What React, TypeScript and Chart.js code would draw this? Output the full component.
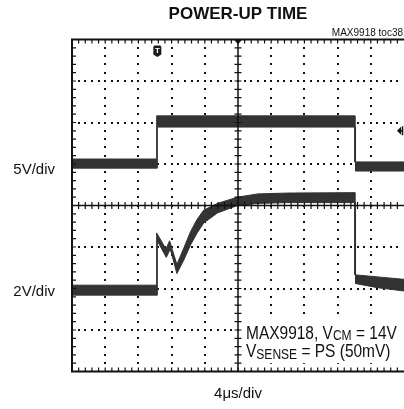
import React, { useEffect, useRef } from "react";
import { Chart, registerables } from "chart.js";

Chart.register(...registerables);

// Time axis: 10 divisions (4µs/div). Vertical: 8 divisions, centre = 0.
const xDivisions = [0, 1, 2, 3, 4, 5, 6, 7, 8, 9, 10];
const yDivisions = [-4, -3, -2, -1, 0, 1, 2, 3, 4];

// Channel 1 (5V/div) trace envelope (in divisions)
const ch1UpperTime = [0, 2.55, 2.55, 8.52, 8.52, 10];
const ch1UpperLevel = [1.12, 1.12, 2.16, 2.16, 1.05, 1.05];
const ch1LowerTime = [0, 2.57, 2.57, 8.54, 8.54, 10];
const ch1LowerLevel = [0.9, 0.9, 1.89, 1.89, 0.83, 0.83];

// Channel 2 (2V/div) trace envelope (in divisions)
const ch2UpperTime = [0, 2.55, 2.55, 2.83, 2.94, 3.16, 3.37, 3.57, 3.77, 3.97, 4.38, 4.98, 5.6, 6.5, 8.52, 8.52, 9.2, 10];
const ch2UpperLevel = [-1.92, -1.92, -0.66, -1.05, -0.85, -1.42, -1.02, -0.63, -0.33, -0.11, 0.05, 0.2, 0.28, 0.3, 0.31, -1.67, -1.72, -1.78];
const ch2LowerTime = [0, 2.57, 2.57, 2.84, 2.96, 3.16, 3.37, 3.57, 3.77, 3.97, 4.38, 4.98, 5.6, 6.5, 8.54, 8.54, 9.2, 10];
const ch2LowerLevel = [-2.16, -2.16, -0.85, -1.25, -1.05, -1.64, -1.31, -0.95, -0.66, -0.42, -0.18, 0.0, 0.05, 0.07, 0.07, -1.88, -1.98, -2.06];

const ch1Marker = 1.0; // label level for 5V/div
const ch2Marker = -2.0; // label level for 2V/div
const triggerTime = 2.57;
const triggerLevel = 1.8;

const titleText = "POWER-UP TIME";
const tocText = "MAX9918 toc38";
const ch1Label = "5V/div";
const ch2Label = "2V/div";
const timeLabel = "4\u03bcs/div";

const FONT = "'Liberation Sans', Arial, sans-serif";
const TRACE = "#333333";

function pts(xs: number[], ys: number[]) {
  return xs.map((x, i) => ({ x, y: ys[i] }));
}

const scopePlugin = {
  id: "scope",
  beforeDatasetsDraw(chart: any) {
    const { ctx, chartArea, scales } = chart;
    const xs = scales.x;
    const ys = scales.y;
    ctx.save();
    ctx.fillStyle = "#111";
    // dotted vertical grid lines
    xDivisions.forEach((d) => {
      if (d === 0 || d === 5 || d === 10) return;
      const px = Math.round(xs.getPixelForValue(d));
      for (let j = 1; j < 40; j++) {
        const py = Math.round(ys.getPixelForValue(-4 + j * 0.2));
        ctx.fillRect(px - 1, py - 1, 2, 2);
      }
    });
    // dotted horizontal grid lines
    yDivisions.forEach((d) => {
      if (d === -4 || d === 0 || d === 4) return;
      const py = Math.round(ys.getPixelForValue(d));
      for (let j = 1; j < 50; j++) {
        const px = Math.round(xs.getPixelForValue(j * 0.2));
        ctx.fillRect(px - 1, py - 1, 2, 2);
      }
    });
    ctx.restore();
  },
  afterDatasetsDraw(chart: any) {
    const { ctx, chartArea, scales } = chart;
    const xs = scales.x;
    const ys = scales.y;
    const cx = xs.getPixelForValue(5);
    const cy = ys.getPixelForValue(0);
    ctx.save();
    ctx.strokeStyle = "#111";
    // centre axes
    ctx.lineWidth = 1.5;
    ctx.beginPath();
    ctx.moveTo(cx, chartArea.top);
    ctx.lineTo(cx, chartArea.bottom);
    ctx.moveTo(chartArea.left, cy);
    ctx.lineTo(chartArea.right, cy);
    ctx.stroke();
    ctx.lineWidth = 1.2;
    ctx.beginPath();
    for (let j = 1; j < 40; j++) {
      const py = ys.getPixelForValue(-4 + j * 0.2);
      ctx.moveTo(cx - 3.5, py);
      ctx.lineTo(cx + 3.5, py);
      // left border ticks
      ctx.moveTo(chartArea.left, py);
      ctx.lineTo(chartArea.left + 4, py);
    }
    for (let j = 1; j < 50; j++) {
      const px = xs.getPixelForValue(j * 0.2);
      ctx.moveTo(px, cy - 3.5);
      ctx.lineTo(px, cy + 3.5);
      ctx.moveTo(px, chartArea.top);
      ctx.lineTo(px, chartArea.top + 4);
      ctx.moveTo(px, chartArea.bottom);
      ctx.lineTo(px, chartArea.bottom - 4);
    }
    ctx.stroke();
    // borders
    ctx.lineWidth = 2;
    ctx.beginPath();
    ctx.moveTo(chartArea.right + 2, chartArea.top);
    ctx.lineTo(chartArea.left, chartArea.top);
    ctx.lineTo(chartArea.left, chartArea.bottom);
    ctx.lineTo(chartArea.right + 2, chartArea.bottom);
    ctx.stroke();

    // centre top marker (small triangle)
    ctx.fillStyle = "#111";
    ctx.beginPath();
    ctx.moveTo(cx - 4, chartArea.top);
    ctx.lineTo(cx + 4, chartArea.top);
    ctx.lineTo(cx, chartArea.top + 5);
    ctx.closePath();
    ctx.fill();

    // trigger time marker "T"
    const tx = xs.getPixelForValue(triggerTime);
    const ty = chartArea.top + 6;
    ctx.fillStyle = "#1a1a1a";
    ctx.beginPath();
    ctx.moveTo(tx - 4, ty + 1.5);
    ctx.quadraticCurveTo(tx - 4, ty, tx - 2.5, ty);
    ctx.lineTo(tx + 2.5, ty);
    ctx.quadraticCurveTo(tx + 4, ty, tx + 4, ty + 1.5);
    ctx.lineTo(tx + 4, ty + 9);
    ctx.lineTo(tx, ty + 11.5);
    ctx.lineTo(tx - 4, ty + 9);
    ctx.closePath();
    ctx.fill();
    ctx.fillStyle = "#fff";
    ctx.font = `bold 8px ${FONT}`;
    ctx.textAlign = "center";
    ctx.textBaseline = "middle";
    ctx.fillText("T", tx, ty + 5);

    // trigger level marker on right
    const ly = ys.getPixelForValue(triggerLevel);
    const rx = chartArea.right - 7;
    ctx.fillStyle = "#111";
    ctx.beginPath();
    ctx.moveTo(rx, ly);
    ctx.lineTo(rx + 4, ly - 4);
    ctx.lineTo(rx + 4, ly + 4);
    ctx.closePath();
    ctx.fill();
    ctx.lineWidth = 1.5;
    ctx.beginPath();
    ctx.moveTo(rx + 4, ly);
    ctx.lineTo(rx + 6, ly);
    ctx.moveTo(rx + 5.5, ly - 4.5);
    ctx.lineTo(rx + 5.5, ly + 4.5);
    ctx.stroke();

    // annotation box
    ctx.fillStyle = "#fff";
    ctx.fillRect(243, ys.getPixelForValue(-2.7), 155, ys.getPixelForValue(-3.8) - ys.getPixelForValue(-2.7));

    ctx.restore();
  },
  afterDraw(chart: any) {
    const { ctx, chartArea, scales } = chart;
    const xs = scales.x;
    const ys = scales.y;
    const cx = xs.getPixelForValue(5);
    ctx.save();
    ctx.fillStyle = "#111";
    ctx.textBaseline = "alphabetic";
    // title
    ctx.textAlign = "center";
    ctx.font = `bold 17px ${FONT}`;
    ctx.fillText(titleText, cx, 18.5);
    // toc
    ctx.textAlign = "right";
    ctx.font = `10px ${FONT}`;
    ctx.fillText(tocText, 403, 35.5);
    // channel labels
    ctx.font = `15px ${FONT}`;
    ctx.textAlign = "right";
    ctx.fillText(ch1Label, 55, ys.getPixelForValue(ch1Marker) + 10);
    ctx.fillText(ch2Label, 55, ys.getPixelForValue(ch2Marker) + 7);
    // time label
    ctx.textAlign = "center";
    ctx.fillText(timeLabel, cx, 398);

    // annotation with subscripts
    const drawRich = (parts: [string, boolean][], x0: number, base: number) => {
      ctx.save();
      const sx = 0.86;
      ctx.translate(x0, base);
      ctx.scale(sx, 1);
      ctx.textAlign = "left";
      let x = 0;
      parts.forEach(([t, sub]) => {
        ctx.font = sub ? `14px ${FONT}` : `18px ${FONT}`;
        ctx.fillText(t, x, sub ? 1.5 : 0);
        x += ctx.measureText(t).width;
      });
      ctx.restore();
    };
    drawRich([["MAX9918, V", false], ["CM", true], [" = 14V", false]], 246, 338.5);
    drawRich([["V", false], ["SENSE", true], [" = PS (50mV)", false]], 246, 357);
    ctx.restore();
  },
};

export default function App() {
  const ref = useRef<HTMLCanvasElement | null>(null);
  useEffect(() => {
    if (!ref.current) return;
    const mk = (data: any, fill: any) => ({
      data,
      borderColor: TRACE,
      backgroundColor: TRACE,
      borderWidth: 1,
      pointRadius: 0,
      tension: 0,
      fill,
    });
    const chart = new Chart(ref.current, {
      type: "line",
      data: {
        datasets: [
          mk(pts(ch1UpperTime, ch1UpperLevel), false),
          mk(pts(ch1LowerTime, ch1LowerLevel), "-1"),
          mk(pts(ch2UpperTime, ch2UpperLevel), false),
          mk(pts(ch2LowerTime, ch2LowerLevel), "-1"),
        ],
      },
      options: {
        responsive: false,
        animation: false,
        devicePixelRatio: 1,
        events: [],
        layout: { padding: { left: 72, right: 0, top: 39.5, bottom: 37.5 } },
        plugins: { legend: { display: false }, tooltip: { enabled: false }, title: { display: false } },
        scales: {
          x: { type: "linear", min: 0, max: 10, display: false },
          y: { type: "linear", min: -4, max: 4, display: false },
        },
      },
      plugins: [scopePlugin],
    });
    return () => chart.destroy();
  }, []);
  return (
    <div style={{ position: "absolute", left: 0, top: 0, width: 404, height: 409, background: "#fff" }}>
      <canvas ref={ref} width={404} height={409} style={{ display: "block" }} />
    </div>
  );
}
